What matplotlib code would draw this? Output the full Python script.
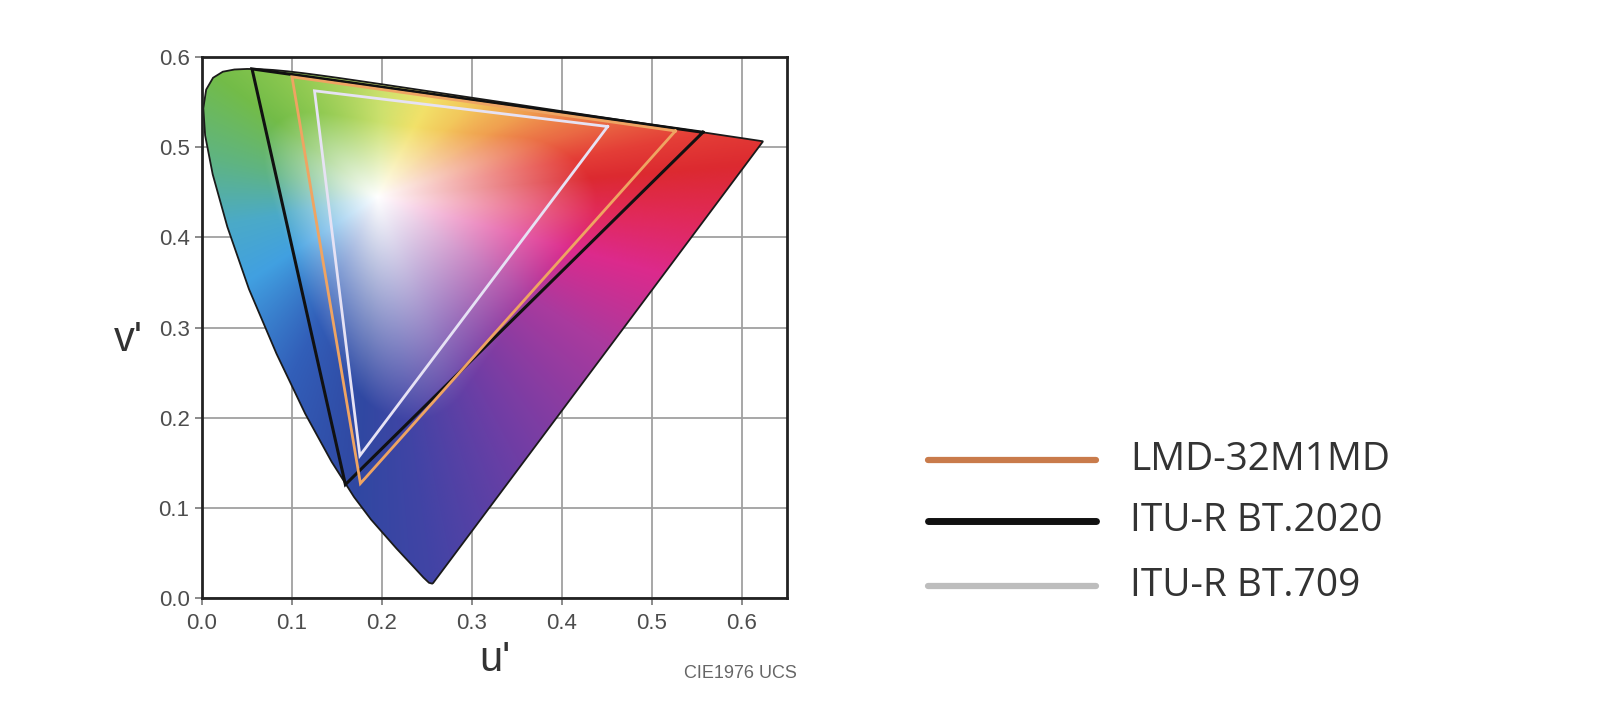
import numpy as np
import matplotlib
matplotlib.use("Agg")
import matplotlib.pyplot as plt
from matplotlib.patches import Polygon
from matplotlib.lines import Line2D

# ---------------- data ----------------
# CIE 1931 spectral locus (wavelength nm, x, y)
wavelengths = [380, 400, 420, 430, 440, 450, 460, 465, 470, 475, 480, 485, 490, 495,
               500, 505, 510, 515, 520, 525, 530, 535, 540, 545, 550, 555, 560, 565,
               570, 575, 580, 585, 590, 595, 600, 610, 620, 630, 640, 650, 660, 680, 700]
locus_x = [0.1741, 0.1733, 0.1714, 0.1689, 0.1644, 0.1566, 0.1440, 0.1355, 0.1241, 0.1096,
           0.0913, 0.0687, 0.0454, 0.0235, 0.0082, 0.0039, 0.0139, 0.0389, 0.0743, 0.1142,
           0.1547, 0.1929, 0.2296, 0.2658, 0.3016, 0.3373, 0.3731, 0.4087, 0.4441, 0.4788,
           0.5125, 0.5448, 0.5752, 0.6029, 0.6270, 0.6658, 0.6915, 0.7079, 0.7190, 0.7260,
           0.7300, 0.7334, 0.7347]
locus_y = [0.0050, 0.0048, 0.0051, 0.0069, 0.0109, 0.0177, 0.0297, 0.0399, 0.0578, 0.0868,
           0.1327, 0.2007, 0.2950, 0.4127, 0.5384, 0.6548, 0.7502, 0.8120, 0.8338, 0.8262,
           0.8059, 0.7816, 0.7543, 0.7243, 0.6923, 0.6589, 0.6245, 0.5896, 0.5547, 0.5202,
           0.4866, 0.4544, 0.4242, 0.3965, 0.3725, 0.3340, 0.3083, 0.2920, 0.2809, 0.2740,
           0.2700, 0.2666, 0.2653]

series_names = ["LMD-32M1MD", "ITU-R BT.2020", "ITU-R BT.709"]
# gamut primaries in u'v' (R, G, B)
lmd_u = [0.526, 0.100, 0.176]
lmd_v = [0.518, 0.578, 0.127]
bt2020_u = [0.5566, 0.0556, 0.1593]
bt2020_v = [0.5165, 0.5868, 0.1258]
bt709_u = [0.4507, 0.1250, 0.1754]
bt709_v = [0.5229, 0.5625, 0.1579]

tick_values_x = [0.0, 0.1, 0.2, 0.3, 0.4, 0.5, 0.6]
tick_values_y = [0.0, 0.1, 0.2, 0.3, 0.4, 0.5, 0.6]

# ---------------- style: background shading ----------------
white_uv = (0.195, 0.445)
hue_angles = [5, 11, 18, 30, 45, 62, 87, 127, 143, 167, 190, 213, 244, 266, 278, 298,
              327, 345, 356]
hue_colors = [(220, 42, 48), (228, 62, 55), (234, 105, 68), (240, 160, 80),
              (243, 200, 92), (242, 225, 105), (205, 225, 110), (140, 200, 80),
              (115, 188, 72), (95, 180, 130), (75, 170, 200), (65, 160, 225),
              (50, 95, 185), (48, 72, 162), (65, 68, 165), (110, 62, 165),
              (170, 58, 158), (220, 42, 140), (225, 42, 90)]

# ---------------- figure ----------------
W, H = 1600, 727
fig = plt.figure(figsize=(W / 100, H / 100), dpi=100)
fig.patch.set_facecolor("white")
ax = fig.add_axes([202 / W, 1 - 598 / H, 585 / W, 541 / H])
ax.set_xlim(0, 0.65)
ax.set_ylim(0, 0.6)

# spectral locus in u'v'
lx = np.array(locus_x)
ly = np.array(locus_y)
den = -2 * lx + 12 * ly + 3
lu = 4 * lx / den
lv = 9 * ly / den

# boundary distance as a function of angle around the white point (smoothed)
pu = np.append(lu, lu[0])
pv = np.append(lv, lv[0])
t = np.linspace(0, 1, 40, endpoint=False)
du = np.concatenate([pu[i] + (pu[i + 1] - pu[i]) * t for i in range(len(lu))])
dv = np.concatenate([pv[i] + (pv[i + 1] - pv[i]) * t for i in range(len(lu))])
ba = np.degrees(np.arctan2(dv - white_uv[1], du - white_uv[0])) % 360
br = np.hypot(du - white_uv[0], dv - white_uv[1])
order = np.argsort(ba)
ba, br = ba[order], br[order]
deg = np.arange(360.0)
Rdeg = np.interp(deg, ba, br, period=360)
win = 31
kern = np.ones(win) / win
Rpad = np.concatenate([Rdeg[-win:], Rdeg, Rdeg[:win]])
Rs = np.convolve(Rpad, kern, mode="same")[win:-win]

nu, nv = 900, 830
uu, vv = np.meshgrid(np.linspace(0, 0.65, nu), np.linspace(0, 0.6, nv))
ang = np.degrees(np.arctan2(vv - white_uv[1], uu - white_uv[0])) % 360
rad = np.hypot(uu - white_uv[0], vv - white_uv[1])
R = np.interp(ang, deg, Rs, period=360)
s = np.clip(rad / R, 0, 1)
f = np.clip(s / 0.66, 0, 1) ** 1.0
hc = np.array(hue_colors) / 255.0
img = np.zeros(uu.shape + (3,))
for k in range(3):
    base = np.interp(ang, hue_angles, hc[:, k], period=360)
    img[..., k] = 1 - f * (1 - base)
img = np.clip(img, 0, 1)

# grid under the image
ax.set_xticks(tick_values_x)
ax.set_yticks(tick_values_y)
ax.grid(True, color="#a0a0a0", linewidth=1.3, zorder=0)
ax.set_axisbelow(True)

im = ax.imshow(img, origin="lower", extent=[0, 0.65, 0, 0.6],
               interpolation="bilinear", aspect="auto", zorder=1)
locus_patch = Polygon(np.column_stack([lu, lv]), closed=True, facecolor="none",
                      edgecolor="#1a1a1a", linewidth=1.3, zorder=5)
ax.add_patch(locus_patch)
im.set_clip_path(locus_patch)

def tri(u, v):
    return list(u) + [u[0]], list(v) + [v[0]]

u, v = tri(bt709_u, bt709_v)
ax.plot(u, v, color="#e6e2f4", linewidth=2.0, solid_joinstyle="miter", zorder=6)
u, v = tri(bt2020_u, bt2020_v)
ax.plot(u, v, color="#111111", linewidth=2.2, solid_joinstyle="miter", zorder=7)
u, v = tri(lmd_u, lmd_v)
ax.plot(u, v, color="#efa462", linewidth=2.0, solid_joinstyle="miter", zorder=8)

# axes styling
for sp in ax.spines.values():
    sp.set_linewidth(2.0)
    sp.set_color("#222222")
    sp.set_zorder(10)
ax.tick_params(axis="both", length=5, width=1.2, color="#777777",
               labelsize=16, labelcolor="#4d4d4d")
ax.tick_params(axis="x", pad=6)
ax.tick_params(axis="y", pad=4)
ax.set_xticklabels([f"{t:.1f}" for t in tick_values_x], family="Liberation Sans")
ax.set_yticklabels([f"{t:.1f}" for t in tick_values_y], family="Liberation Sans")

fig.text(495 / W, 1 - 660 / H, "u'", ha="center", va="center", fontsize=30,
         color="#333333", family="Liberation Sans")
fig.text(128 / W, 1 - 340 / H, "v'", ha="center", va="center", fontsize=30,
         color="#333333", family="Liberation Sans")
fig.text(797 / W, 1 - 673 / H, "CIE1976 UCS", ha="right", va="center", fontsize=13,
         color="#666666", family="Liberation Sans")

# legend (manual)
leg_colors = ["#c97b4b", "#111111", "#bdbdbd"]
leg_widths = [4.5, 5.0, 4.5]
leg_y = [460, 521, 586]
for name, c, lw, yy_ in zip(series_names, leg_colors, leg_widths, leg_y):
    fy = 1 - yy_ / H
    fig.add_artist(Line2D([928 / W, 1096 / W], [fy, fy], color=c, linewidth=lw,
                          solid_capstyle="round", transform=fig.transFigure))
    fig.text(1130 / W, fy, name, ha="left", va="center", fontsize=28,
             color="#333333", family="Open Sans")

fig.savefig("out.png", dpi=100, facecolor="white")
